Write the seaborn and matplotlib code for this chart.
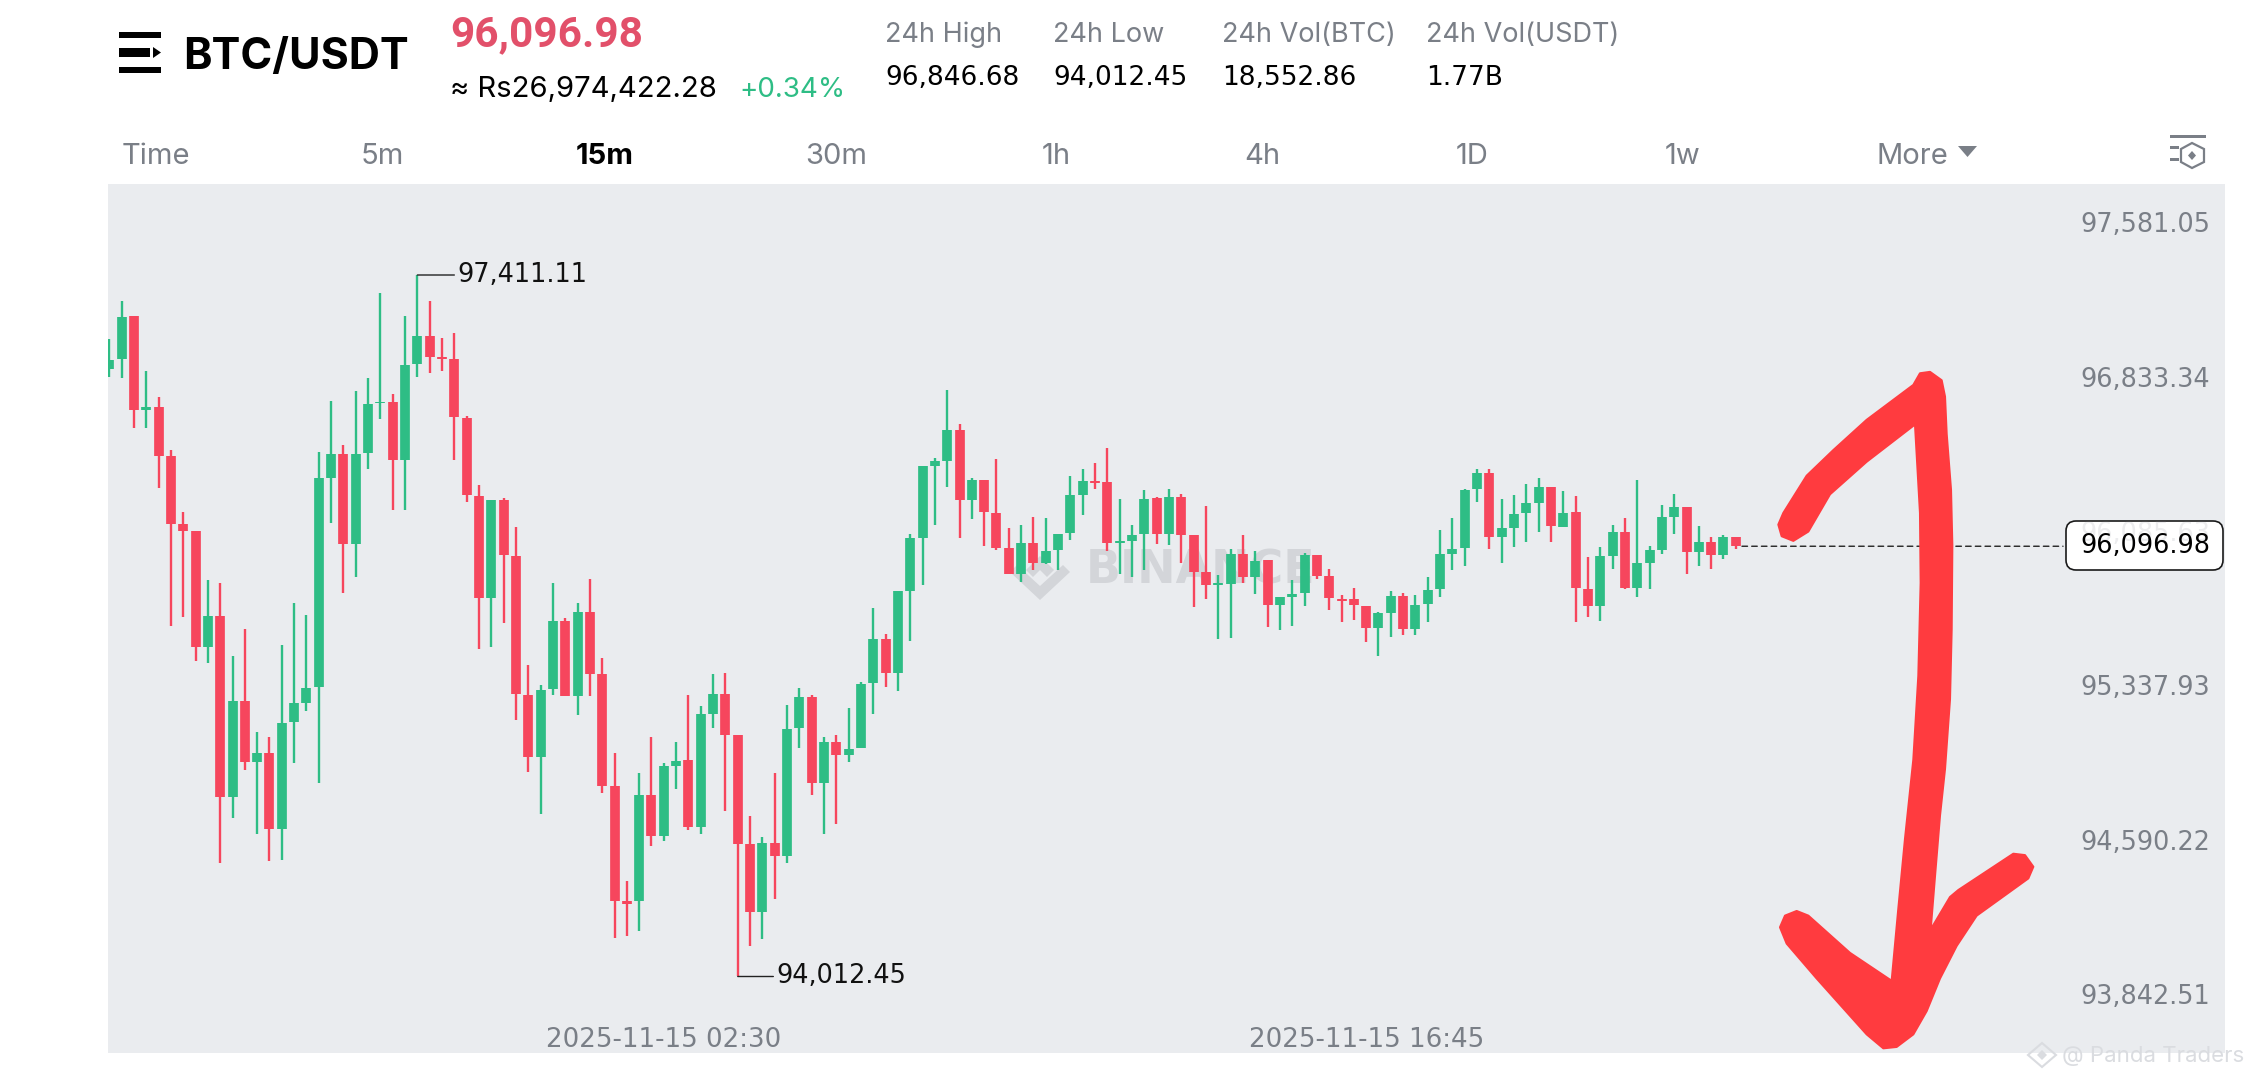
import numpy as np
import pandas as pd
import matplotlib
matplotlib.use("Agg")
import matplotlib.pyplot as plt
import matplotlib.transforms as mtrans
from matplotlib.patches import Polygon, Rectangle, FancyBboxPatch
import seaborn as sns

# ---------- data (USDT prices) ----------
highs = [97100,97287,97211,96945,96819,96564,96262,96170,95933,95919,95563,95696,95198,95173,95619,95824,95764,96552,96801,96588,96849,96913,97323,96833,97211,97411.11,97285,97106,97130,96730,96395,96321,96331,96188,95523,95427,
         95920,95748,95823,95939,95556,95096,94474,94997,95171,95047,95148,95378,95321,95480,95483,95181,94790,94686,94999,95330,95411,95376,95171,95183,95311,95437,95798,95671,95882,96156,96485,96526,96854,96691,96428,96418,96522,
         96184,96200,96239,96232,96158,96436,96471,96499,96571,96326,96201,96369,96336,96374,96352,96151,96290,95958,96084,96151,96074,96029,95853,95933,96064,96055,95985,95861,95895,95809,95777,95878,
         95870,95859,95950,96174,96232,96373,96473,96470,96327,96345,96399,96426,96382,96363,96339,96045,96092,96200,96232,96419,96098,96297,96350,96285,96195,96140,96153,96143]
body_tops = [97000,97207,97211,96773,96773,96534,96204,96170,95758,95758,95348,95348,95097,95097,95242,95336,95410,96427,96544,96544,96544,96787,96797,96797,96976,97114,97114,97012,97004,96720,96341,96321,96321,96049,95376,95402,
             95736,95736,95779,95779,95476,94934,94376,94890,94890,95031,95058,95060,95282,95382,95382,95181,94652,94660,94660,95213,95365,95365,95148,95148,95116,95430,95650,95650,95880,96135,96485,96510,96658,96658,96418,96418,96259,
             96090,96114,96114,96074,96158,96344,96415,96415,96410,96121,96151,96326,96331,96336,96336,96150,95971,95917,96059,96059,96027,96029,95851,95867,96055,96055,95953,95841,95840,95807,95773,95856,
             95857,95814,95887,96059,96084,96371,96452,96452,96185,96255,96306,96382,96382,96260,96261,95891,96050,96164,96164,96014,96079,96239,96285,96285,96119,96119,96142,96142]
body_bottoms = [96955,97004,96757,96759,96534,96204,96170,95609,95609,94880,94880,95051,95051,94727,94727,95246,95338,95415,96429,96110,96110,96548,96789,96515,96515,96980,97016,97004,96722,96345,95846,95846,96053,95380,95077,95077,
                95407,95370,95370,95478,94935,94378,94366,94378,94692,94692,95031,94736,94736,95284,95181,94654,94324,94324,94594,94594,95215,94951,94951,95085,95085,95118,95432,95483,95483,95882,96137,96487,96512,96321,96321,96261,96089,
                95964,95964,96017,96017,96077,96159,96345,96405,96113,96114,96124,96155,96156,96156,96151,95972,95908,95911,95914,95950,95948,95811,95811,95853,95870,95954,95845,95832,95811,95699,95699,95775,
                95696,95696,95817,95890,96061,96087,96373,96143,96143,96187,96256,96308,96193,96190,95893,95806,95807,96050,95895,95895,96016,96080,96240,96067,96069,96056,96056,96097]
lows = [96919,96913,96672,96672,96381,95712,95756,95539,95529,94563,94782,95011,94701,94573,94575,95045,95300,94952,96210,95871,95949,96473,96712,96274,96274,96915,96935,96945,96513,96311,95601,95609,95724,95256,95001,94800,
        95378,95370,95277,95372,94901,94200,94209,94232,94644,94669,94920,94721,94702,95217,94813,94012.45,94161,94196,94386,94560,95121,94893,94702,94753,95052,95118,95282,95416,95395,95637,95911,96198,96386,96135,96229,96097,96077,
        95964,95925,95982,96009,95982,96126,96248,96373,96076,95961,95949,95982,96108,96105,96018,95804,95840,95646,95651,95917,95867,95704,95693,95709,95807,95940,95786,95732,95740,95631,95567,95656,
        95665,95665,95730,95853,95982,96003,96310,96085,96016,96092,96117,96168,96119,96189,95731,95752,95736,95988,95891,95853,95888,96058,96158,95962,96003,95985,96035,96082]
up_candles = [0,1,3,8,10,12,14,15,16,17,18,20,21,22,24,25,31,35,36,38,43,45,46,48,49,53,55,56,58,60,61,62,64,65,66,67,68,70,
              74,76,77,78,79,82,83,84,86,90,91,93,95,96,97,103,104,106,107,108,109,110,111,113,114,115,116,118,121,122,124,125,126,127,129,131]

tick_prices = [97581.05, 96833.34, 96085.63, 95337.93, 94590.22, 93842.51]
date_labels = ["2025-11-15 02:30", "2025-11-15 16:45"]
date_candles = [45, 102]
last_price = 96096.98
high_price, high_candle = 97411.11, 25
low_price, low_candle = 94012.45, 51
tabs = ["Time", "5m", "15m", "30m", "1h", "4h", "1D", "1w", "More"]
stat_labels = ["24h High", "24h Low", "24h Vol(BTC)", "24h Vol(USDT)"]
stat_values = ["96,846.68", "94,012.45", "18,552.86", "1.77B"]

GREEN, RED, GRAY, PANEL = "#2EBD85", "#F6465D", "#7A7F87", "#EAECEF"
MONO = ["DejaVu Sans"]   # tabular digits, as in the app's price text

# ---------- frames ----------
n = len(highs)
candle_side = ["up" if i in up_candles else "down" for i in range(n)]
wicks = pd.DataFrame({
    "candle": np.tile(np.arange(n), 2),
    "price": highs + lows,
    "side": candle_side * 2,
})
bodies = pd.DataFrame({
    "candle": np.tile(np.arange(n), 2),
    "price": body_tops + body_bottoms,
    "side": candle_side * 2,
})
palette = {"up": GREEN, "down": RED}

# ---------- figure ----------
sns.set_theme(style="white")
plt.rcParams["font.family"] = ["Inter", "DejaVu Sans"]
W, H = 2260, 1080
fig = plt.figure(figsize=(W / 100, H / 100), dpi=100, facecolor="white")
PX = mtrans.Affine2D().scale(1, -1).translate(0, H)   # page pixels, origin top-left

ax = fig.add_axes([108 / W, 1 - 1053 / H, (2225 - 108) / W, (1053 - 184) / H])
ax.set_facecolor(PANEL)
for s in ax.spines.values():
    s.set_visible(False)

# Watermark under the candles
ax.text(1086, 571, "BINANCE", transform=PX, color="#D3D5D9", fontsize=33,
        fontweight="bold", va="center", ha="left", zorder=0.5, family=MONO)
for pts in ([(1040, 556), (1054, 570), (1047, 577), (1040, 570), (1033, 577), (1026, 570)],
            [(1040, 600), (1070, 572), (1063, 565), (1040, 586), (1017, 565), (1010, 572)]):
    ax.add_patch(Polygon(pts, closed=True, transform=PX, facecolor="#D3D5D9",
                         edgecolor="none", zorder=0.5))

sns.lineplot(data=wicks, x="candle", y="price", units="candle", hue="side",
             palette=palette, estimator=None, errorbar=None, legend=False, ax=ax,
             linewidth=1.7, solid_capstyle="butt", zorder=2)
sns.lineplot(data=bodies, x="candle", y="price", units="candle", hue="side",
             palette=palette, estimator=None, errorbar=None, legend=False, ax=ax,
             linewidth=7.0, solid_capstyle="butt", zorder=3)

ax.set_xlim(-0.105, 171.7)
ax.set_ylim(93641.8, 97852)
ax.set_xlabel("")
ax.set_ylabel("")
ax.set_yticks([])
ax.set_xticks(date_candles)
ax.set_xticklabels(date_labels, color=GRAY, fontsize=18.8, family=MONO)
ax.tick_params(axis="x", length=0, pad=-19, direction="in")

# Price scale: labels sit just above their price level, inside the panel
ytrans = mtrans.blended_transform_factory(PX, ax.transData)
for p in tick_prices:
    ghost = p == 96085.63
    ax.annotate(f"{p:,.2f}", xy=(2080, p), xycoords=ytrans, xytext=(0, 10.5),
                textcoords="offset points", color=GRAY, fontsize=18.4, va="center",
                ha="left", alpha=0.14 if ghost else 1, zorder=5.5 if ghost else 4, family=MONO)

# Current price line and tag
ax.annotate("", xy=(2063, last_price), xycoords=ytrans,
            xytext=(n - 1 + 0.5, last_price), textcoords="data",
            arrowprops=dict(arrowstyle="-", color="#222222", lw=1.0, ls=(0, (4, 3)),
                            shrinkA=0, shrinkB=0), zorder=4)
tag = FancyBboxPatch((2072, 527), 145, 37, boxstyle="round,pad=6,rounding_size=10",
                     transform=PX, facecolor="white", edgecolor="#1A1A1A", lw=1.2,
                     mutation_scale=1, zorder=5)
ax.add_patch(tag)
ax.annotate(f"{last_price:,.2f}", xy=(2080, last_price), xycoords=ytrans, color="black",
            fontsize=18.4, va="center", ha="left", zorder=6, family=MONO)

# High / low markers
ax.annotate(f"{high_price:,.2f}", xy=(high_candle, high_price), xytext=(29, 0),
            textcoords="offset points", va="center", ha="left", fontsize=18.4, color="#111111",
            family=MONO,
            arrowprops=dict(arrowstyle="-", color="#222222", lw=1.0, shrinkA=0, shrinkB=0),
            zorder=6)
ax.annotate(f"{low_price:,.2f}", xy=(low_candle, low_price), xytext=(28, 0),
            textcoords="offset points", va="center", ha="left", fontsize=18.4, color="#111111",
            family=MONO,
            arrowprops=dict(arrowstyle="-", color="#222222", lw=1.0, shrinkA=0, shrinkB=0),
            zorder=6)

# ---------- header ----------
def t(x, y, s, **kw):
    kw.setdefault("va", "center")
    kw.setdefault("ha", "left")
    fig.text(x, y, s, transform=PX, **kw)

for y0, y1, x1 in ((32, 37.5, 161), (48, 57, 150), (67, 73, 161)):
    fig.add_artist(Rectangle((119, y0), x1 - 119, y1 - y0, transform=PX, color="black", lw=0))
fig.add_artist(Polygon([(153, 47), (161, 52.5), (153, 58)], closed=True, transform=PX,
                       color="black", lw=0))
t(183, 57, "BTC/USDT", fontsize=31, fontweight="bold", color="black")
t(450, 35, "96,096.98", fontsize=30.5, fontweight="bold", color="#E2506A", family=["Roboto"])
t(450, 90, "\u2248 Rs26,974,422.28", fontsize=21, color="black")
t(739, 90, "+0.34%", fontsize=20, color=GREEN)
for x, lab, val in zip((885, 1053, 1222, 1426), stat_labels, stat_values):
    t(x, 35, lab, fontsize=19.5, color=GRAY)
    t(x, 78, val, fontsize=19, color="black", family=MONO)
for x, lab in zip((156, 382, 605, 836, 1056, 1262, 1472, 1683, 1912), tabs):
    active = lab == "15m"
    t(x, 156, lab, fontsize=21, ha="center", color="black" if active else GRAY,
      fontweight="bold" if active else "normal")
fig.add_artist(Polygon([(1958, 146), (1977, 146), (1967.5, 157)], closed=True, transform=PX,
                       color=GRAY, lw=0))
# Toolbar icon
fig.add_artist(Rectangle((2170, 135), 36, 3, transform=PX, color=GRAY, lw=0))
for yy in (146, 158):
    fig.add_artist(Rectangle((2170, yy), 9, 2.5, transform=PX, color=GRAY, lw=0))
fig.add_artist(Polygon([(2192, 143), (2204, 149), (2204, 162), (2192, 168), (2181, 162), (2181, 149)],
                       closed=True, transform=PX, fill=False, edgecolor=GRAY, lw=1.6))
fig.add_artist(Polygon([(2192, 151), (2196, 155.5), (2192, 160), (2188, 155.5)], closed=True,
                       transform=PX, color=GRAY, lw=0))

# ---------- hand-drawn red arrow (traced outline of the scribble) ----------
scribble = [(85,375),(100,350),(170,270),(250,215),(350,150),(490,75),(510,50),(540,47),(575,65),
            (585,100),(590,180),(603,300),(607,420),(605,600),(600,750),(585,900),(570,1000),
            (555,1130),(542,1245),(600,1175),(625,1160),(790,1082),(825,1085),(850,1110),(835,1135),
            (680,1215),(620,1280),(570,1350),(530,1420),(490,1470),(440,1497),(400,1500),(350,1470),
            (200,1350),(110,1275),(90,1240),(105,1215),(140,1205),(175,1215),(300,1295),(425,1355),
            (445,1200),(465,1050),(490,880),(505,700),(512,500),(510,350),(495,160),(350,240),
            (240,310),(175,390),(130,410),(95,400)]
outline = [(1750 + a / 3, 350 + b / 2.148) for a, b in scribble]
fig.add_artist(Polygon(outline, closed=True, transform=PX, facecolor="#FF3B3F",
                       edgecolor="#FF3B3F", lw=1.5, joinstyle="round", zorder=10))

# Corner credit
t(2062, 1056, "@ Panda Traders", fontsize=16, color="#DADCE0", zorder=11)
fig.add_artist(Polygon([(2042, 1043), (2056, 1055), (2042, 1067), (2028, 1055)], closed=True,
                       transform=PX, fill=False, edgecolor="#DADCE0", lw=1.5, zorder=11))
fig.add_artist(Polygon([(2042, 1050), (2047, 1055), (2042, 1060), (2037, 1055)], closed=True,
                       transform=PX, facecolor="#DADCE0", lw=0, zorder=11))

fig.savefig("out.png", dpi=100, facecolor="white")
